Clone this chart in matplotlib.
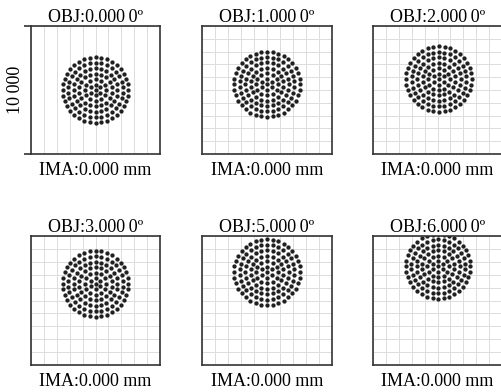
import matplotlib.pyplot as plt
import numpy as np

# field angles (deg) and spot centroid shift (grid units)
fields = ['0.000\u20090', '1.000\u20090', '2.000\u20090',
          '3.000\u20090', '5.000\u20090', '6.000\u20090']
y_shift = [0.0, 0.45, 0.85, 1.3, 2.2, 2.65]
x_shift = [0.0, 0.0, 0.1, 0.0, 0.0, 0.05]
spot_r = [2.55, 2.55, 2.55, 2.55, 2.55, 2.5]
n_rings = 6
ima_label = 'IMA:0.000 mm'
scale_label = '10\u2009000'

plt.rcParams['font.family'] = ['Liberation Serif', 'DejaVu Serif']

W, H = 501, 392
fig = plt.figure(figsize=(W / 100, H / 100), dpi=100)

cols = [(31, 160), (202, 332), (373, 502)]
rows = [(26, 154), (236, 365)]


def hexapolar(r_max, rings):
    xs, ys = [0.0], [0.0]
    for i in range(1, rings + 1):
        r = r_max * i / rings
        n = 6 * i
        t = np.linspace(0, 2 * np.pi, n, endpoint=False) + np.pi / 2
        xs.extend(r * np.cos(t))
        ys.extend(r * np.sin(t))
    return np.array(xs), np.array(ys)


for k in range(6):
    (x0, x1) = cols[k % 3]
    (y0, y1) = rows[k // 3]
    ax = fig.add_axes([x0 / W, 1 - y1 / H, (x1 - x0) / W, (y1 - y0) / H])
    ax.set_xlim(-5, 5)
    ax.set_ylim(-5, 5)
    ax.set_xticks(np.arange(-5, 6, 1))
    ax.set_yticks(np.arange(-5, 6, 1))
    ax.grid(True, color='#dcdcdc', lw=0.7)
    ax.set_axisbelow(True)
    ax.tick_params(length=0, labelbottom=False, labelleft=False)
    for s in ax.spines.values():
        s.set_color('#333333')
        s.set_linewidth(1.2)

    px, py = hexapolar(spot_r[k], n_rings)
    ax.plot(px + x_shift[k], py + y_shift[k], ls='none', marker='o',
            ms=3.1, color='#202020', mew=0)

    ax.set_title('OBJ:' + fields[k] + 'º', fontsize=13, pad=3)
    ax.set_xlabel(ima_label, fontsize=13, labelpad=6)

    if k == 0:
        ax.set_yticks([-5, 5])
        ax.tick_params(axis='y', length=5, width=1.2, color='#333333',
                       direction='out')
        ax.set_ylabel(scale_label, fontsize=13, labelpad=0)

fig.savefig('out.png', dpi=100)
